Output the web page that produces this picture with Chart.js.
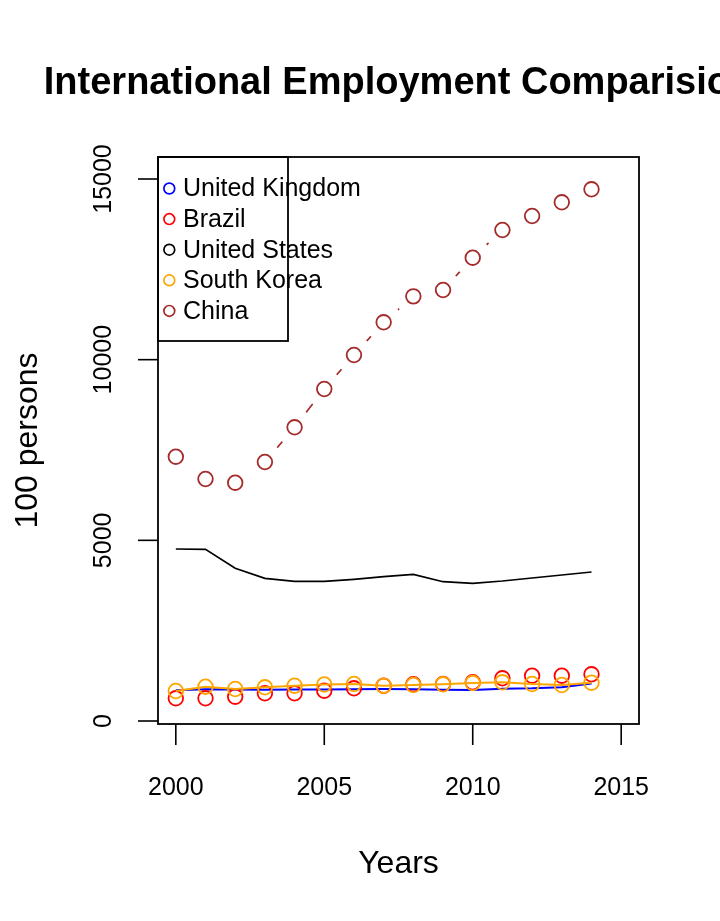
<!DOCTYPE html>
<html>
<head>
<meta charset="utf-8">
<script src="https://cdn.jsdelivr.net/npm/chart.js@4"></script>
<style>html,body{margin:0;padding:0;background:#fff;}canvas{display:block;}</style>
</head>
<body>
<canvas id="c" width="720" height="921"></canvas>
<script>
// ---- data ----
const years = [2000,2001,2002,2003,2004,2005,2006,2007,2008,2009,2010,2011,2012,2013,2014];
const unitedKingdom = [850,880,870,865,870,875,880,885,880,865,860,895,905,935,1040];
const brazil        = [628,628,672,767,767,839,905,977,1016,1024,1071,1182,1254,1254,1292];
const unitedStates  = [4760,4752,4226,3949,3866,3866,3922,3994,4060,3855,3811,3875,3958,4041,4124];
const southKorea    = [830,949,886,933,977,1010,1024,977,996,1016,1050,1071,1024,996,1060];
const china         = [7315,6697,6595,7168,8128,9188,10129,11034,11753,11928,12822,13588,13976,14355,14715];
const seriesNames   = ['United Kingdom','Brazil','United States','South Korea','China'];
const seriesColors  = ['#0000FF','#FF0000','#000000','#FFA500','#A52A2A'];
const xTicks = [2000,2005,2010,2015];
const yTicks = [0,5000,10000,15000];
const titleText = 'International Employment Comparision';
const xTitle = 'Years';
const yTitle = '100 persons';

const FONT = '"Liberation Sans", Arial, Helvetica, sans-serif';
function pts(arr){ return years.map((yr,i)=>({x:yr,y:arr[i]})); }

const rStyle = {
  id: 'rStyle',
  afterDraw(chart){
    const ctx = chart.ctx, a = chart.chartArea;
    const xs = chart.scales.x, ys = chart.scales.y;
    ctx.save();
    ctx.strokeStyle = '#000'; ctx.fillStyle = '#000';
    // box
    ctx.lineWidth = 1.8;
    ctx.strokeRect(a.left, a.top, a.right - a.left, a.bottom - a.top);
    // y axis ticks + labels
    ctx.lineWidth = 1.6;
    ctx.font = '25px ' + FONT;
    yTicks.forEach(v=>{
      const py = ys.getPixelForValue(v);
      ctx.beginPath(); ctx.moveTo(a.left, py); ctx.lineTo(a.left - 20, py); ctx.stroke();
      ctx.save(); ctx.translate(111, py); ctx.rotate(-Math.PI/2);
      ctx.textAlign = 'center'; ctx.textBaseline = 'alphabetic';
      ctx.fillText(String(v), 0, 0); ctx.restore();
    });
    // x axis ticks + labels
    xTicks.forEach(v=>{
      const px = xs.getPixelForValue(v);
      ctx.beginPath(); ctx.moveTo(px, a.bottom); ctx.lineTo(px, a.bottom + 21); ctx.stroke();
      ctx.textAlign = 'center'; ctx.textBaseline = 'alphabetic';
      ctx.fillText(String(v), px, 795);
    });
    // titles
    const cx = (a.left + a.right) / 2, cy = (a.top + a.bottom) / 2;
    ctx.font = 'bold 38px ' + FONT;
    ctx.textAlign = 'center'; ctx.textBaseline = 'alphabetic';
    ctx.fillText(titleText, cx, 94);
    ctx.font = '32px ' + FONT;
    ctx.fillText(xTitle, cx, 873);
    ctx.save(); ctx.translate(37, cy); ctx.rotate(-Math.PI/2);
    ctx.fillText(yTitle, 0, 0); ctx.restore();
    // legend
    ctx.lineWidth = 1.8;
    ctx.strokeRect(a.left, a.top, 130, 184);
    ctx.font = '25px ' + FONT;
    ctx.textAlign = 'left'; ctx.textBaseline = 'middle';
    seriesNames.forEach((n,i)=>{
      const ly = 188.5 + i * 30.6;
      ctx.beginPath(); ctx.arc(169.3, ly, 5.4, 0, Math.PI*2);
      ctx.strokeStyle = seriesColors[i]; ctx.lineWidth = 1.7; ctx.stroke();
      ctx.fillStyle = '#000';
      ctx.fillText(n, 183, ly + 1);
    });
    ctx.restore();
  }
};

new Chart(document.getElementById('c'), {
  type: 'scatter',
  data: {
    datasets: [
      { label: seriesNames[0], data: pts(unitedKingdom), showLine: true, borderColor: seriesColors[0], borderWidth: 2, pointRadius: 0, order: 7 },
      { label: seriesNames[1], data: pts(brazil), showLine: false, pointRadius: 7.3, pointBorderWidth: 1.8, pointBorderColor: seriesColors[1], pointBackgroundColor: 'rgba(0,0,0,0)', order: 6 },
      { label: seriesNames[2], data: pts(unitedStates), showLine: true, borderColor: seriesColors[2], borderWidth: 1.7, pointRadius: 0, order: 5 },
      { label: seriesNames[3], data: pts(southKorea), showLine: true, borderColor: seriesColors[3], borderWidth: 2, pointRadius: 7.3, pointBorderWidth: 1.8, pointBorderColor: seriesColors[3], pointBackgroundColor: 'rgba(0,0,0,0)', order: 4 },
      { label: seriesNames[4], data: pts(china), showLine: true, borderColor: seriesColors[4], borderWidth: 1.7, pointRadius: 0, order: 3 },
      { label: seriesNames[4] + ' gap', data: pts(china), showLine: false, pointRadius: 19, pointBorderWidth: 0, pointBorderColor: '#fff', pointBackgroundColor: '#fff', order: 2 },
      { label: seriesNames[4] + ' points', data: pts(china), showLine: false, pointRadius: 7.3, pointBorderWidth: 1.8, pointBorderColor: seriesColors[4], pointBackgroundColor: 'rgba(0,0,0,0)', order: 1 }
    ]
  },
  options: {
    responsive: false,
    animation: false,
    devicePixelRatio: 1,
    events: [],
    layout: { padding: { left: 158, top: 157, right: 81, bottom: 197 } },
    scales: {
      x: { type: 'linear', display: false, min: 1999.4, max: 2015.6 },
      y: { type: 'linear', display: false, min: -83, max: 15609 }
    },
    plugins: { legend: { display: false }, title: { display: false }, tooltip: { enabled: false } }
  },
  plugins: [rStyle]
});
</script>
</body>
</html>
